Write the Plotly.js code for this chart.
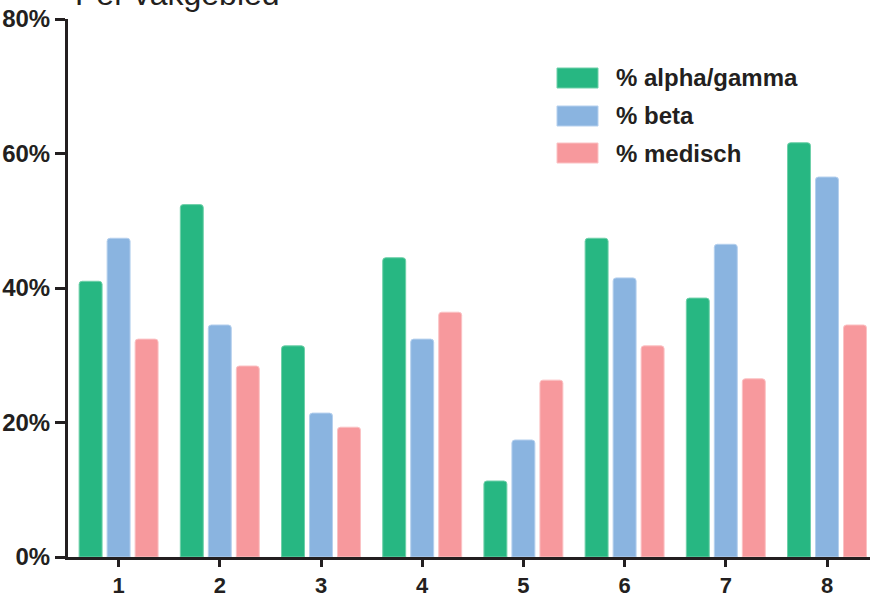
<!DOCTYPE html>
<html>
<head>
<meta charset="utf-8">
<script src="https://cdn.plot.ly/plotly-3.0.1.min.js"></script>
<style>html,body{margin:0;padding:0;background:#fff;}#chart{width:870px;height:597px;}</style>
</head>
<body>
<div id="chart"></div>
<script>
const categories = ['1','2','3','4','5','6','7','8'];
const alphaGamma = [41.0, 52.4, 31.4, 44.5, 11.3, 47.4, 38.5, 61.6];
const beta       = [47.4, 34.5, 21.4, 32.4, 17.4, 41.5, 46.5, 56.5];
const medisch    = [32.4, 28.4, 19.3, 36.4, 26.3, 31.4, 26.5, 34.5];
const seriesNames = ['% alpha/gamma', '% beta', '% medisch'];
const seriesColors = ['#27b782', '#8ab4e0', '#f7999d'];
const seriesEdge = ['#6fd0a9', '#b5d0ee', '#fbc2c4'];
const yTickVals = [0, 20, 40, 60, 80];
const yTickText = ['0%', '20%', '40%', '60%', '80%'];
const titleText = 'Per vakgebied';

const W = 870, H = 597;
const M = {l: 68, r: 0, t: 19, b: 40};
const PW = W - M.l - M.r, PH = H - M.t - M.b;
const px2x = p => (p - M.l) / PW;
const px2y = p => 1 - (p - M.t) / PH;

const boldFont = 'Liberation Sans, Arial, Helvetica, sans-serif';
const ink = '#231f20';

const values = [alphaGamma, beta, medisch];
const traces = values.map((v, i) => ({
  type: 'bar',
  x: categories.map(Number),
  y: v,
  name: seriesNames[i],
  marker: {color: seriesColors[i], line: {color: seriesEdge[i], width: 1}, cornerradius: 3},
  hoverinfo: 'x+y+name'
}));

// custom legend (large swatches)
const legendRowsPx = [78, 116, 153];
const shapes = [], annotations = [];
legendRowsPx.forEach((cy, i) => {
  shapes.push({type: 'rect', xref: 'paper', yref: 'paper',
    x0: px2x(557), x1: px2x(598), y0: px2y(cy + 10), y1: px2y(cy - 10),
    fillcolor: seriesColors[i], line: {color: seriesEdge[i], width: 1}});
  annotations.push({xref: 'paper', yref: 'paper', x: px2x(614), y: px2y(cy),
    xanchor: 'left', yanchor: 'middle', showarrow: false, text: '<b>' + seriesNames[i] + '</b>',
    font: {family: boldFont, size: 24, color: ink}});
});
annotations.push({xref: 'paper', yref: 'paper', x: px2x(73), y: px2y(14),
  xanchor: 'left', yanchor: 'bottom', showarrow: false, text: titleText,
  font: {family: 'Liberation Sans, Arial, sans-serif', size: 32, color: ink}});

const layout = {
  width: W, height: H,
  margin: M,
  paper_bgcolor: '#fff', plot_bgcolor: '#fff',
  barmode: 'group', bargap: 0.17, bargroupgap: 0.18,
  showlegend: false,
  xaxis: {
    range: [0.5, 0.5 + 8 * PW / 809.6], tickvals: categories.map(Number), ticktext: categories.map(c => '<b>' + c + '</b>'),
    showline: true, linecolor: ink, linewidth: 3, ticks: 'outside', ticklen: 7, tickwidth: 3, tickcolor: ink,
    showgrid: false, zeroline: false, tickfont: {family: boldFont, size: 22, color: ink}, fixedrange: true
  },
  yaxis: {
    range: [0, 80], tickvals: yTickVals, ticktext: yTickText.map(t => '<b>' + t + '</b>'),
    showline: true, linecolor: ink, linewidth: 3, ticks: 'outside', ticklen: 10, tickwidth: 3, tickcolor: ink,
    showgrid: false, zeroline: false, tickfont: {family: boldFont, size: 24, color: ink}, fixedrange: true
  },
  shapes: shapes,
  annotations: annotations
};

Plotly.newPlot('chart', traces, layout, {displayModeBar: false, staticPlot: true});
</script>
</body>
</html>
